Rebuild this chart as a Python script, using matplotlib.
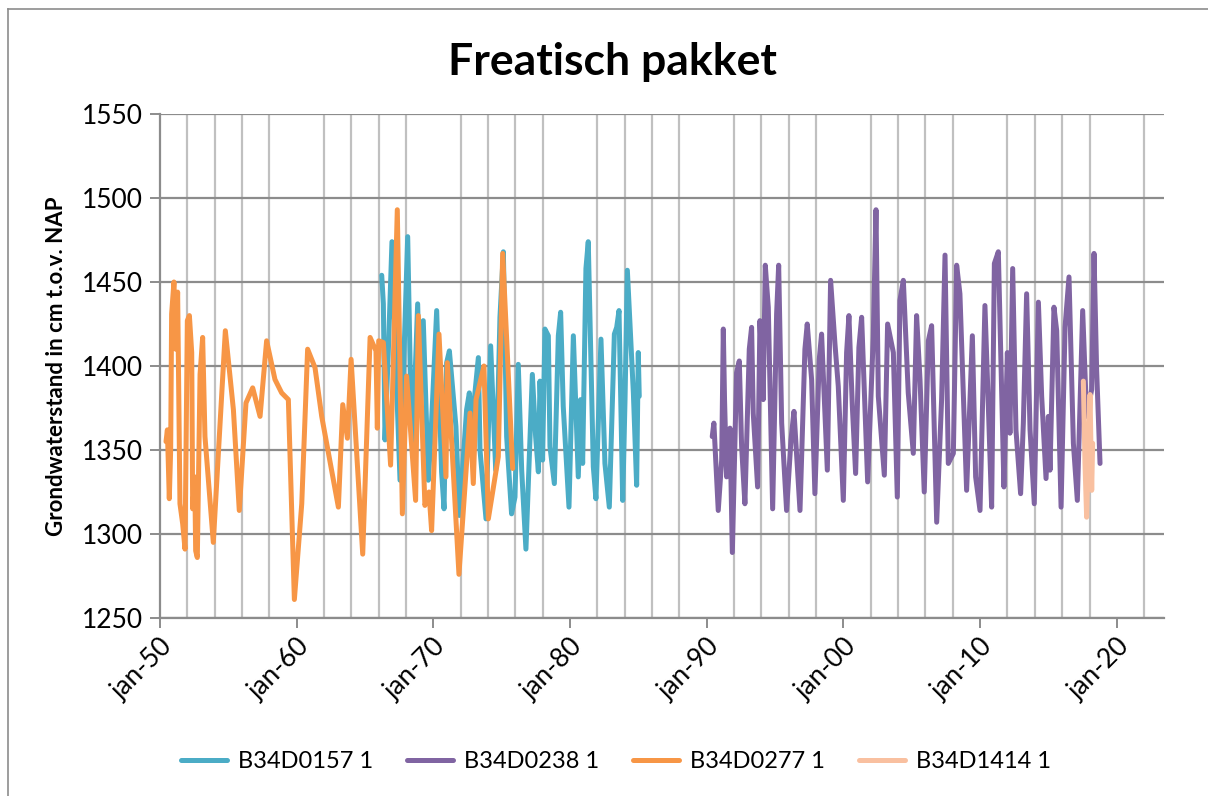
import matplotlib
matplotlib.use("Agg")
import matplotlib.pyplot as plt
import numpy as np
from matplotlib.lines import Line2D

plt.rcParams['font.family'] = ['Lato', 'DejaVu Sans']

# B34D0157 1 (blue)
t_0157 = [1966.22, 1966.34, 1966.46, 1966.7, 1966.97, 1967.31, 1967.56, 1968.12, 1968.34, 1968.48,
          1968.85, 1969.02, 1969.26, 1969.63, 1969.82, 1970.24, 1970.6, 1970.78, 1970.97, 1971.17,
          1971.65, 1971.9, 1972.43, 1972.63, 1972.8, 1973.29, 1973.41, 1973.85, 1974.19, 1974.56,
          1974.75, 1974.87, 1975.12, 1975.36, 1975.72, 1975.97, 1976.21, 1976.46, 1976.77, 1977.24,
          1977.48, 1977.68, 1977.8, 1977.99, 1978.16, 1978.41, 1978.53, 1978.85, 1979.14, 1979.31,
          1979.5, 1979.92, 1980.24, 1980.6, 1980.77, 1980.92, 1981.16, 1981.33, 1981.7, 1981.89,
          1982.26, 1982.55, 1982.87, 1983.24, 1983.41, 1983.58, 1983.85, 1984.02, 1984.19, 1984.63,
          1984.87, 1984.99, 1985.06]
v_0157 = [1454, 1437, 1356, 1408, 1474, 1388, 1332, 1477, 1384, 1353,
          1437, 1380, 1427, 1332, 1358, 1433, 1337, 1315, 1402, 1409,
          1364, 1311, 1374, 1384, 1364, 1405, 1350, 1309, 1412, 1338,
          1388, 1429, 1468, 1358, 1312, 1322, 1401, 1338, 1291, 1395,
          1358, 1337, 1391, 1344, 1422, 1418, 1352, 1330, 1418, 1432,
          1376, 1316, 1418, 1334, 1380, 1342, 1458, 1474, 1340, 1321,
          1416, 1342, 1316, 1419, 1423, 1433, 1320, 1380, 1457, 1384,
          1329, 1408, 1382]

# B34D0238 1 (purple)
t_0238 = [1990.4, 1990.52, 1990.84, 1991.09, 1991.21, 1991.3, 1991.45, 1991.7, 1991.87, 1992.18, 1992.38,
          1992.55, 1992.79, 1993.11, 1993.28, 1993.4, 1993.72, 1993.89, 1994.13, 1994.28, 1994.5,
          1994.82, 1995.11, 1995.26, 1995.48, 1995.84, 1996.16, 1996.38, 1996.82, 1997.18, 1997.35,
          1997.67, 1997.91, 1998.23, 1998.4, 1998.82, 1999.06, 1999.38, 1999.62, 1999.99, 2000.23,
          2000.4, 2000.65, 2000.89, 2001.13, 2001.33, 2001.77, 2002.18, 2002.38, 2002.55, 2002.99,
          2003.23, 2003.65, 2003.94, 2004.13, 2004.38, 2004.74, 2005.11, 2005.35, 2005.6, 2005.91,
          2006.21, 2006.45, 2006.82, 2007.18, 2007.43, 2007.67, 2008.04, 2008.28, 2008.52, 2009.01,
          2009.43, 2009.67, 2009.99, 2010.35, 2010.6, 2010.84, 2011.04, 2011.33, 2011.57, 2011.74,
          2011.99, 2012.18, 2012.38, 2012.62, 2012.96, 2013.16, 2013.4, 2013.65, 2013.96, 2014.26,
          2014.5, 2014.82, 2014.99, 2015.11, 2015.4, 2015.6, 2015.92, 2016.21, 2016.5, 2016.82,
          2017.11, 2017.5, 2017.79, 2018.16, 2018.33, 2018.52, 2018.77]
v_0238 = [1358, 1366, 1314, 1344, 1422, 1380, 1334, 1363, 1289, 1396, 1403,
          1352, 1318, 1410, 1423, 1372, 1328, 1427, 1380, 1460, 1435,
          1315, 1431, 1460, 1366, 1314, 1356, 1373, 1314, 1410, 1425,
          1392, 1324, 1404, 1419, 1338, 1451, 1413, 1388, 1320, 1408,
          1430, 1376, 1336, 1411, 1429, 1331, 1417, 1493, 1382, 1335,
          1425, 1408, 1322, 1439, 1451, 1384, 1348, 1430, 1392, 1325,
          1415, 1424, 1307, 1380, 1466, 1342, 1348, 1460, 1443, 1326,
          1418, 1334, 1314, 1436, 1376, 1316, 1461, 1468, 1386, 1328,
          1408, 1360, 1458, 1362, 1324, 1366, 1443, 1362, 1318, 1438,
          1382, 1333, 1370, 1338, 1435, 1421, 1316, 1423, 1453, 1354,
          1320, 1433, 1370, 1386, 1467, 1398, 1342]

# B34D0277 1 (orange)
t_0277 = [1950.44, 1950.54, 1950.68, 1950.78, 1950.85, 1951.02, 1951.15, 1951.29, 1951.46, 1951.66,
          1951.83, 1952.0, 1952.15, 1952.32, 1952.39, 1952.54, 1952.61, 1952.73, 1952.93, 1953.12,
          1953.29, 1953.9, 1954.78, 1955.37, 1955.8, 1956.29, 1956.78, 1957.32, 1957.8, 1958.41,
          1958.9, 1959.39, 1959.83, 1960.37, 1960.8, 1961.34, 1961.83, 1963.05, 1963.37, 1963.71,
          1963.98, 1964.83, 1965.37, 1965.8, 1965.9, 1966.0, 1966.34, 1966.87, 1967.36, 1967.73,
          1968.04, 1968.7, 1968.9, 1969.38, 1969.68, 1969.87, 1970.41, 1970.92, 1971.02, 1971.87,
          1972.68, 1972.92, 1973.12, 1973.7, 1974.02, 1974.75, 1975.07, 1975.8]
v_0277 = [1355, 1362, 1321, 1350, 1431, 1450, 1410, 1444, 1318, 1306,
          1291, 1427, 1430, 1408, 1315, 1334, 1290, 1286, 1395, 1417,
          1358, 1295, 1421, 1374, 1314, 1378, 1387, 1370, 1415, 1392,
          1384, 1380, 1261, 1318, 1410, 1399, 1370, 1316, 1377, 1357,
          1404, 1288, 1417, 1409, 1363, 1415, 1414, 1341, 1493, 1312,
          1394, 1320, 1430, 1317, 1325, 1302, 1419, 1334, 1402, 1276,
          1372, 1330, 1380, 1400, 1309, 1346, 1467, 1339]

# B34D1414 1 (peach)
t_1414 = [2017.55, 2017.67, 2017.79, 2017.92, 2018.04, 2018.16, 2018.23]
v_1414 = [1391, 1342, 1310, 1352, 1383, 1326, 1354]

series = [
    ("B34D0157 1", t_0157, v_0157, "#4BACC6"),
    ("B34D0238 1", t_0238, v_0238, "#8064A2"),
    ("B34D0277 1", t_0277, v_0277, "#F79646"),
    ("B34D1414 1", t_1414, v_1414, "#F9C0A0"),
]

fig = plt.figure(figsize=(12.08, 7.96), dpi=100)
W, H = 1208, 796
ax = fig.add_axes([160 / W, 1 - 618 / H, (1164 - 160) / W, (618 - 114) / H])

for name, t, v, c in series:
    ax.plot(t, v, color=c, lw=3.6, label=name, solid_joinstyle='round', solid_capstyle='round')

ax.set_xlim(1950, 2023.45)
ax.set_ylim(1250, 1550)

ax.set_yticks(np.arange(1250, 1551, 50))
ax.set_xticks(np.arange(1950, 2021, 10))
ax.set_xticks(np.arange(1950, 2023, 2), minor=True)
ax.set_xticklabels(["jan-%02d" % (y % 100) for y in range(1950, 2021, 10)],
                   rotation=45, ha='right', rotation_mode='anchor')

ax.grid(True, axis='y', color='#8C8C8C', lw=1.6)
ax.grid(True, axis='x', which='minor', color='#C0C0C0', lw=1.6)
ax.set_axisbelow(True)

ax.tick_params(axis='y', length=7, width=1.4, color='#8C8C8C', labelsize=19, pad=5)
ax.tick_params(axis='x', which='major', length=7, width=1.4, color='#8C8C8C', labelsize=19, pad=4)
ax.tick_params(axis='x', which='minor', length=0)

for s in ['top', 'right']:
    ax.spines[s].set_visible(False)
for s in ['left', 'bottom']:
    ax.spines[s].set_color('#8C8C8C')
    ax.spines[s].set_linewidth(1.6)

ax.set_ylabel("Grondwaterstand in cm t.o.v. NAP", fontsize=16, fontweight='bold')
ax.yaxis.set_label_coords((67 - 160) / 1004, 0.5)
fig.text(612 / W, 1 - 62 / H, "Freatisch pakket", fontsize=32, fontweight='bold',
         ha='center', va='center')

fig.legend(loc='center', bbox_to_anchor=(616 / W, 1 - 762 / H), ncol=4, frameon=False,
           fontsize=17, handlelength=1.95, columnspacing=1.45, handletextpad=0.45)

# chart border like the spreadsheet frame
fig.add_artist(Line2D([8 / W, 8 / W], [0, 1 - 9 / H], color='#8C8C8C', lw=1.2))
fig.add_artist(Line2D([8 / W, 1], [1 - 9 / H, 1 - 9 / H], color='#8C8C8C', lw=1.2))

fig.savefig("out.png", dpi=100)
